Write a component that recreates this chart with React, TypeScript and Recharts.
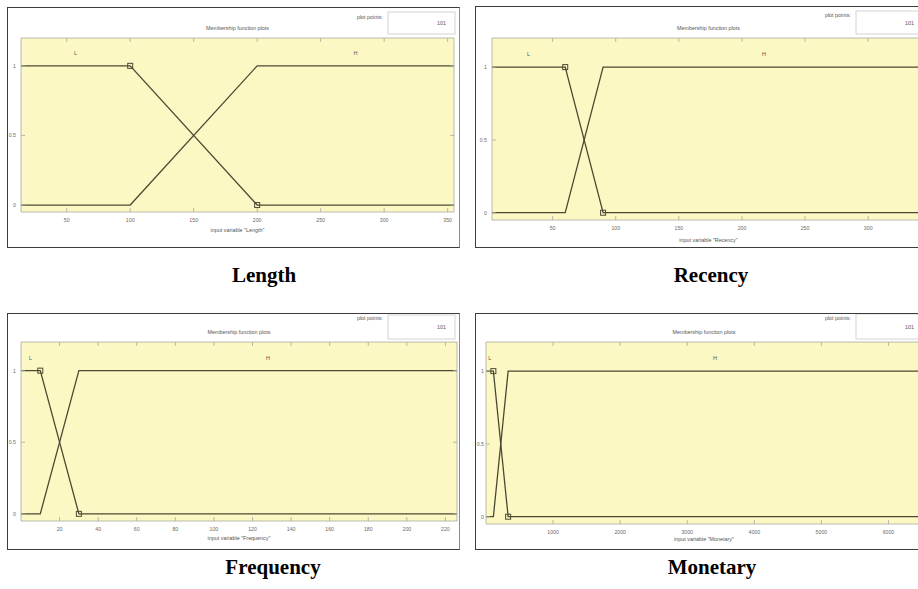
import React from 'react';
import { LineChart, Line, XAxis, YAxis, CartesianGrid, ReferenceDot, Label } from 'recharts';

// ---- data ----
const lengthX = [14, 100, 200, 355];
const lengthLow = [1, 1, 0, 0];
const lengthHigh = [0, 0, 1, 1];
const lengthTicks = [50, 100, 150, 200, 250, 300, 350];

const recencyX = [2, 60, 90, 345];
const recencyLow = [1, 1, 0, 0];
const recencyHigh = [0, 0, 1, 1];
const recencyTicks = [50, 100, 150, 200, 250, 300];

const frequencyX = [0, 10, 30, 226];
const frequencyLow = [1, 1, 0, 0];
const frequencyHigh = [0, 0, 1, 1];
const frequencyTicks = [20, 40, 60, 80, 100, 120, 140, 160, 180, 200, 220];

const monetaryX = [0, 110, 330, 6500];
const monetaryLow = [1, 1, 0, 0];
const monetaryHigh = [0, 0, 1, 1];
const monetaryTicks = [1000, 2000, 3000, 4000, 5000, 6000];

const mfNames = ['L', 'H'];
const yTicks = [0, 0.5, 1];
const yDomain = [-0.05, 1.2];
const plotPoints = 101;
const titleText = 'Membership function plots';

// ---- styles ----
const LINE = '#4a4a32';
const YELLOW = '#fcf8c4';
const AXIS = '#a8a8a0';
const SMALL = '#6a6a6a';
const FONT = '"Liberation Sans", Arial, sans-serif';

type P = {
  name: string;
  xs: number[];
  low: number[];
  high: number[];
  ticks: number[];
  box: { left: number; top: number; width: number; height: number };
  margin: { top: number; right: number; bottom: number; left: number };
  ov: { titleY: number; boxTop: number; boxH: number; ppY: number; xLabelY: number; yGap: number };
  caption: { x: number; y: number };
};

const panels: P[] = [
  {
    name: 'Length', xs: lengthX, low: lengthLow, high: lengthHigh, ticks: lengthTicks,
    box: { left: 7, top: 7, width: 453, height: 241 },
    margin: { top: 30, right: 5, bottom: 35, left: 13 },
    ov: { titleY: 23, boxTop: 5, boxH: 22, ppY: 12, xLabelY: 225, yGap: 5 },
    caption: { x: 264, y: 282 },
  },
  {
    name: 'Recency', xs: recencyX, low: recencyLow, high: recencyHigh, ticks: recencyTicks,
    box: { left: 475, top: 6, width: 456, height: 242 },
    margin: { top: 31, right: 5, bottom: 27, left: 16 },
    ov: { titleY: 24, boxTop: 5, boxH: 23, ppY: 11, xLabelY: 236, yGap: 5 },
    caption: { x: 711, y: 282 },
  },
  {
    name: 'Frequency', xs: frequencyX, low: frequencyLow, high: frequencyHigh, ticks: frequencyTicks,
    box: { left: 7, top: 313, width: 453, height: 237 },
    margin: { top: 28, right: 2, bottom: 28, left: 13 },
    ov: { titleY: 21, boxTop: 2, boxH: 24, ppY: 7, xLabelY: 227, yGap: 5 },
    caption: { x: 273, y: 574 },
  },
  {
    name: 'Monetary', xs: monetaryX, low: monetaryLow, high: monetaryHigh, ticks: monetaryTicks,
    box: { left: 475, top: 313, width: 453, height: 237 },
    margin: { top: 28, right: 5, bottom: 25, left: 10 },
    ov: { titleY: 21, boxTop: 1, boxH: 25, ppY: 7, xLabelY: 228, yGap: 2 },
    caption: { x: 712, y: 574 },
  },
];

const toData = (xs: number[], ys: number[]) => xs.map((x, i) => ({ x, y: ys[i] }));

const BottomTick = (props: any) => {
  const { x, y, payload } = props;
  return (
    <g>
      <line x1={x} x2={x} y1={y} y2={y - 4} stroke={AXIS} strokeWidth={0.8} />
      <text x={x} y={y + 10} textAnchor="middle" fontSize={5.2} fill={SMALL} fontFamily={FONT}>
        {payload.value}
      </text>
    </g>
  );
};
const TopTick = (props: any) => {
  const { x, y } = props;
  return <line x1={x} x2={x} y1={y} y2={y + 4} stroke={AXIS} strokeWidth={0.8} />;
};
const makeLeftTick = (gap: number) => (props: any) => {
  const { x, y, payload } = props;
  return (
    <g>
      <line x1={x} x2={x + 4} y1={y} y2={y} stroke={AXIS} strokeWidth={0.8} />
      <text x={x - gap} y={y + 2} textAnchor="end" fontSize={5.2} fill={SMALL} fontFamily={FONT}>
        {payload.value}
      </text>
    </g>
  );
};
const RightTick = (props: any) => {
  const { x, y } = props;
  return <line x1={x} x2={x - 4} y1={y} y2={y} stroke={AXIS} strokeWidth={0.8} />;
};

const SquareDot = (props: any) => {
  const { cx, cy, index } = props;
  if (index !== 1 && index !== 2) return <g key={`n${index}`} />;
  return (
    <rect key={`s${index}`} x={cx - 2.5} y={cy - 2.5} width={5} height={5}
      fill="none" stroke={LINE} strokeWidth={1} />
  );
};

const Panel = ({ p }: { p: P }) => {
  const { box, margin, ov } = p;
  const plotW = box.width - margin.left - margin.right - 2;
  const cx = margin.left + 1 + plotW / 2;
  const lowData = toData(p.xs, p.low);
  const highData = toData(p.xs, p.high);
  const xmin = p.xs[0];
  const xmax = p.xs[p.xs.length - 1];
  const lowMid = (p.xs[0] + p.xs[1]) / 2;
  const highMid = (p.xs[2] + p.xs[3]) / 2;
  const axisLine = { stroke: AXIS, strokeWidth: 0.8 };
  const LeftTick = makeLeftTick(ov.yGap);
  return (
    <div style={{ position: 'absolute', left: box.left, top: box.top, width: box.width, height: box.height, background: '#fff' }}>
      <LineChart width={box.width} height={box.height} margin={margin}>
        <CartesianGrid xAxisId="b" yAxisId="l" fill={YELLOW} horizontal={false} vertical={false} stroke="none" />
        <XAxis xAxisId="b" type="number" dataKey="x" domain={[xmin, xmax]} ticks={p.ticks}
          allowDataOverflow height={1} tickSize={0} tickMargin={0} interval={0}
          axisLine={axisLine} tickLine={false} tick={<BottomTick />} />
        <XAxis xAxisId="t" orientation="top" type="number" dataKey="x" domain={[xmin, xmax]} ticks={p.ticks}
          allowDataOverflow height={1} tickSize={0} tickMargin={0} interval={0}
          axisLine={axisLine} tickLine={false} tick={<TopTick />} />
        <YAxis yAxisId="l" type="number" domain={yDomain} ticks={yTicks} allowDataOverflow
          width={1} tickSize={0} tickMargin={0} interval={0}
          axisLine={axisLine} tickLine={false} tick={<LeftTick />} />
        <YAxis yAxisId="r" orientation="right" type="number" domain={yDomain} ticks={yTicks} allowDataOverflow
          width={1} tickSize={0} tickMargin={0} interval={0}
          axisLine={axisLine} tickLine={false} tick={<RightTick />} />
        <Line xAxisId="b" yAxisId="l" data={highData} dataKey="y" type="linear" stroke={LINE}
          strokeWidth={1.3} dot={false} activeDot={false} isAnimationActive={false} />
        <Line xAxisId="b" yAxisId="l" data={lowData} dataKey="y" type="linear" stroke={LINE}
          strokeWidth={1.3} dot={SquareDot} activeDot={false} isAnimationActive={false} />
        <ReferenceDot xAxisId="b" yAxisId="l" x={lowMid} y={1.09} r={0} stroke="none" fill="none">
          <Label value={mfNames[0]} position="center" fontSize={5.5} fill="#555" fontFamily={FONT} />
        </ReferenceDot>
        <ReferenceDot xAxisId="b" yAxisId="l" x={highMid} y={1.09} r={0} stroke="none" fill="none">
          <Label value={mfNames[1]} position="center" fontSize={5.5} fill="#555" fontFamily={FONT} />
        </ReferenceDot>
      </LineChart>
      <svg width={box.width} height={box.height} style={{ position: 'absolute', left: 0, top: 0, pointerEvents: 'none' }}>
        <text x={cx} y={ov.titleY} textAnchor="middle" fontSize={5.4} fill="#555" fontFamily={FONT}>{titleText}</text>
        <text x={376} y={ov.ppY} textAnchor="end" fontSize={5.4} fill="#555" fontFamily={FONT}>plot points:</text>
        <rect x={381} y={ov.boxTop} width={67} height={ov.boxH} fill="#fff" stroke="#c8c8c8" strokeWidth={0.8} />
        <text x={439} y={ov.boxTop + ov.boxH / 2 + 2} textAnchor="end" fontSize={5.4} fill="#555" fontFamily={FONT}>{plotPoints}</text>
        <text x={cx} y={ov.xLabelY} textAnchor="middle" fontSize={5.4} fill="#555" fontFamily={FONT}>
          {`input variable "${p.name}"`}
        </text>
      </svg>
      <div style={{ position: 'absolute', left: 0, top: 0, width: box.width, height: box.height, boxSizing: 'border-box', border: '1.5px solid #3c3c3c', borderRightColor: '#8a8a8a', pointerEvents: 'none' }} />
    </div>
  );
};

export default function App() {
  return (
    <div style={{ position: 'absolute', left: 0, top: 0, width: 918, height: 589, overflow: 'hidden', background: '#fff' }}>
      {panels.map((p) => <Panel key={p.name} p={p} />)}
      <svg width={918} height={589} style={{ position: 'absolute', left: 0, top: 0, pointerEvents: 'none' }}>
        {panels.map((p) => (
          <text key={p.name} x={p.caption.x} y={p.caption.y} textAnchor="middle" fontSize={21}
            fontWeight="bold" fontFamily='"Liberation Serif", "Times New Roman", serif' fill="#000">
            {p.name}
          </text>
        ))}
      </svg>
    </div>
  );
}
